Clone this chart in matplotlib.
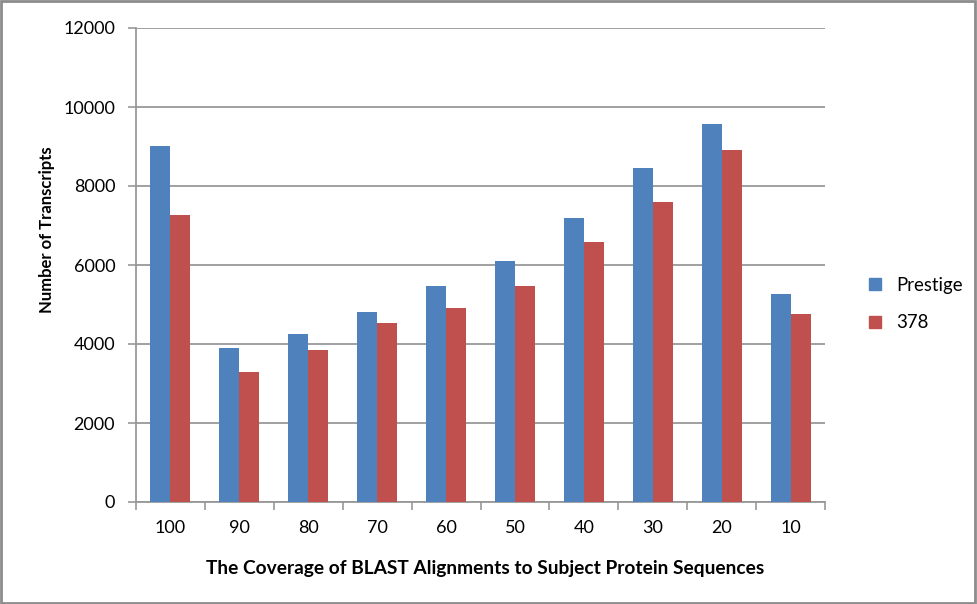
import numpy as np
import matplotlib.pyplot as plt
from matplotlib.patches import Rectangle
from matplotlib.lines import Line2D

# coverage categories and counts
coverage = ['100', '90', '80', '70', '60', '50', '40', '30', '20', '10']
prestige = [9010, 3890, 4250, 4800, 5460, 6090, 7180, 8460, 9570, 5260]
s378 = [7270, 3280, 3840, 4520, 4920, 5460, 6580, 7590, 8910, 4770]

blue = '#4F81BD'
red = '#C0504D'
grey = '#989898'

plt.rcParams['font.family'] = ['Lato', 'DejaVu Sans']

fig = plt.figure(figsize=(9.77, 6.04), dpi=100)
ax = fig.add_axes([136/977, 1 - 502/604, (825 - 136)/977, (502 - 28)/604])

x = np.arange(len(coverage))
w = 0.29
ax.bar(x - w/2, prestige, w, color=blue, label='Prestige', zorder=3)
ax.bar(x + w/2, s378, w, color=red, label='378', zorder=3)

ax.set_xlim(-0.5, len(coverage) - 0.5)
ax.set_ylim(0, 12000)
ax.set_yticks(range(0, 12001, 2000))
ax.yaxis.grid(True, color=grey, linewidth=1.3, zorder=0)

# labels in the middle, tick marks between groups
ax.set_xticks(x)
ax.set_xticklabels(coverage, fontsize=13)
ax.set_xticks(np.arange(-0.5, len(coverage)), minor=True)
ax.tick_params(axis='x', which='major', length=0, pad=13)
ax.tick_params(axis='x', which='minor', length=6, color=grey, width=1.2)
ax.tick_params(axis='y', length=6, color=grey, width=1.2, labelsize=13, pad=9)

for s in ['top', 'right']:
    ax.spines[s].set_visible(False)
for s in ['left', 'bottom']:
    ax.spines[s].set_color(grey)
    ax.spines[s].set_linewidth(1.3)

ax.set_xlabel('The Coverage of BLAST Alignments to Subject Protein Sequences',
              fontsize=13.8, fontweight='bold')
ax.xaxis.set_label_coords(0.507, -0.122)
ax.set_ylabel('Number of Transcripts', fontsize=12, fontweight='bold')
ax.yaxis.set_label_coords(-0.118, 0.574)

handles = [Line2D([], [], marker='s', linestyle='', color=blue, markersize=9),
           Line2D([], [], marker='s', linestyle='', color=red, markersize=9)]
fig.legend(handles, ['Prestige', '378'], loc='center left',
           bbox_to_anchor=(840/977, 1 - 304/604), frameon=False,
           fontsize=13.4, handletextpad=0.1, labelspacing=1.1)

# grey frame around the whole picture
fig.add_artist(Rectangle((0.001, 0.002), 0.997, 0.996, transform=fig.transFigure,
                         fill=False, edgecolor='#8c8c8c', linewidth=2))

fig.savefig('out.png', dpi=100)
